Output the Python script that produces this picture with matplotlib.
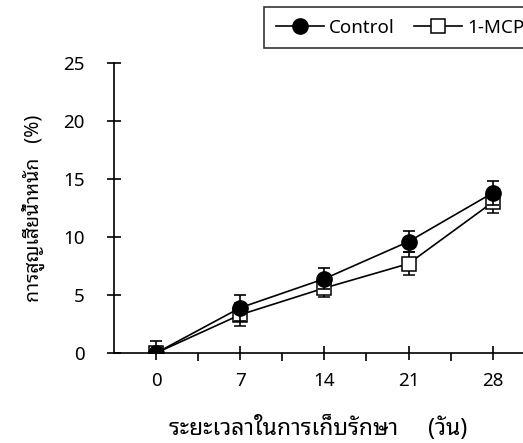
import matplotlib
matplotlib.use("Agg")
import matplotlib.pyplot as plt
from matplotlib.ticker import FixedLocator
from matplotlib.lines import Line2D

plt.rcParams['font.family'] = ['Noto Sans Thai Looped', 'DejaVu Sans']

# data
days = ["0", "7", "14", "21", "28"]
control = [0.0, 3.9, 6.4, 9.6, 13.8]
control_err = [1.0, 1.1, 0.9, 0.9, 1.0]
mcp = [0.0, 3.3, 5.6, 7.7, 13.0]
mcp_err = [0.3, 1.0, 0.8, 1.0, 0.9]

x = list(range(len(days)))

fig = plt.figure(figsize=(5.23, 4.43), dpi=100)
ax = fig.add_axes([114 / 523, 90 / 443, 409 / 523, 290 / 443])

ax.errorbar(x, mcp, yerr=mcp_err, color="black", lw=1.2, marker="s", ms=9.5,
            mfc="white", mec="black", mew=1.1, capsize=4, elinewidth=1.2,
            capthick=1.2, zorder=3)
ax.errorbar(x, control, yerr=control_err, color="black", lw=1.2, marker="o", ms=11,
            mfc="black", mec="black", capsize=4, elinewidth=1.2,
            capthick=1.2, zorder=4)

ax.set_xlim(-0.5, 4.36)
ax.set_ylim(0, 25)
ax.set_xticks(x)
ax.set_xticklabels(days)
ax.xaxis.set_minor_locator(FixedLocator([0.5, 1.5, 2.5, 3.5]))
ax.set_yticks([0, 5, 10, 15, 20, 25])

for s in ["top", "right"]:
    ax.spines[s].set_visible(False)
for s in ["left", "bottom"]:
    ax.spines[s].set_linewidth(1.2)
    ax.spines[s].set_clip_on(False)

ax.tick_params(axis="both", which="major", direction="inout", length=10,
               width=1.2, labelsize=13.5)
ax.tick_params(axis="y", which="major", pad=16)
ax.tick_params(axis="x", which="major", pad=9)
ax.tick_params(axis="x", which="minor", direction="out", length=5.5, width=1.2)

ax.set_xlabel("ระยะเวลาในการเก็บรักษา     (วัน)", fontsize=16.5, labelpad=18)
ax.set_ylabel("การสูญเสียน้ำหนัก   (%)", fontsize=14, labelpad=13)

handles = [
    Line2D([], [], color="black", lw=1.2, marker="o", ms=11, mfc="black"),
    Line2D([], [], color="black", lw=1.2, marker="s", ms=9.5, mfc="white", mew=1.1),
]
leg = fig.legend(handles, ["Control", "1-MCP"], loc="upper left",
                 bbox_to_anchor=(264 / 523, 1 - 7 / 443), ncol=2, fontsize=13.5,
                 frameon=True, fancybox=False, edgecolor="black",
                 handlelength=2.6, columnspacing=1.0, handletextpad=0.25,
                 borderpad=0.62, borderaxespad=0)
leg.get_frame().set_linewidth(1.2)

fig.savefig("out.png", dpi=100)
